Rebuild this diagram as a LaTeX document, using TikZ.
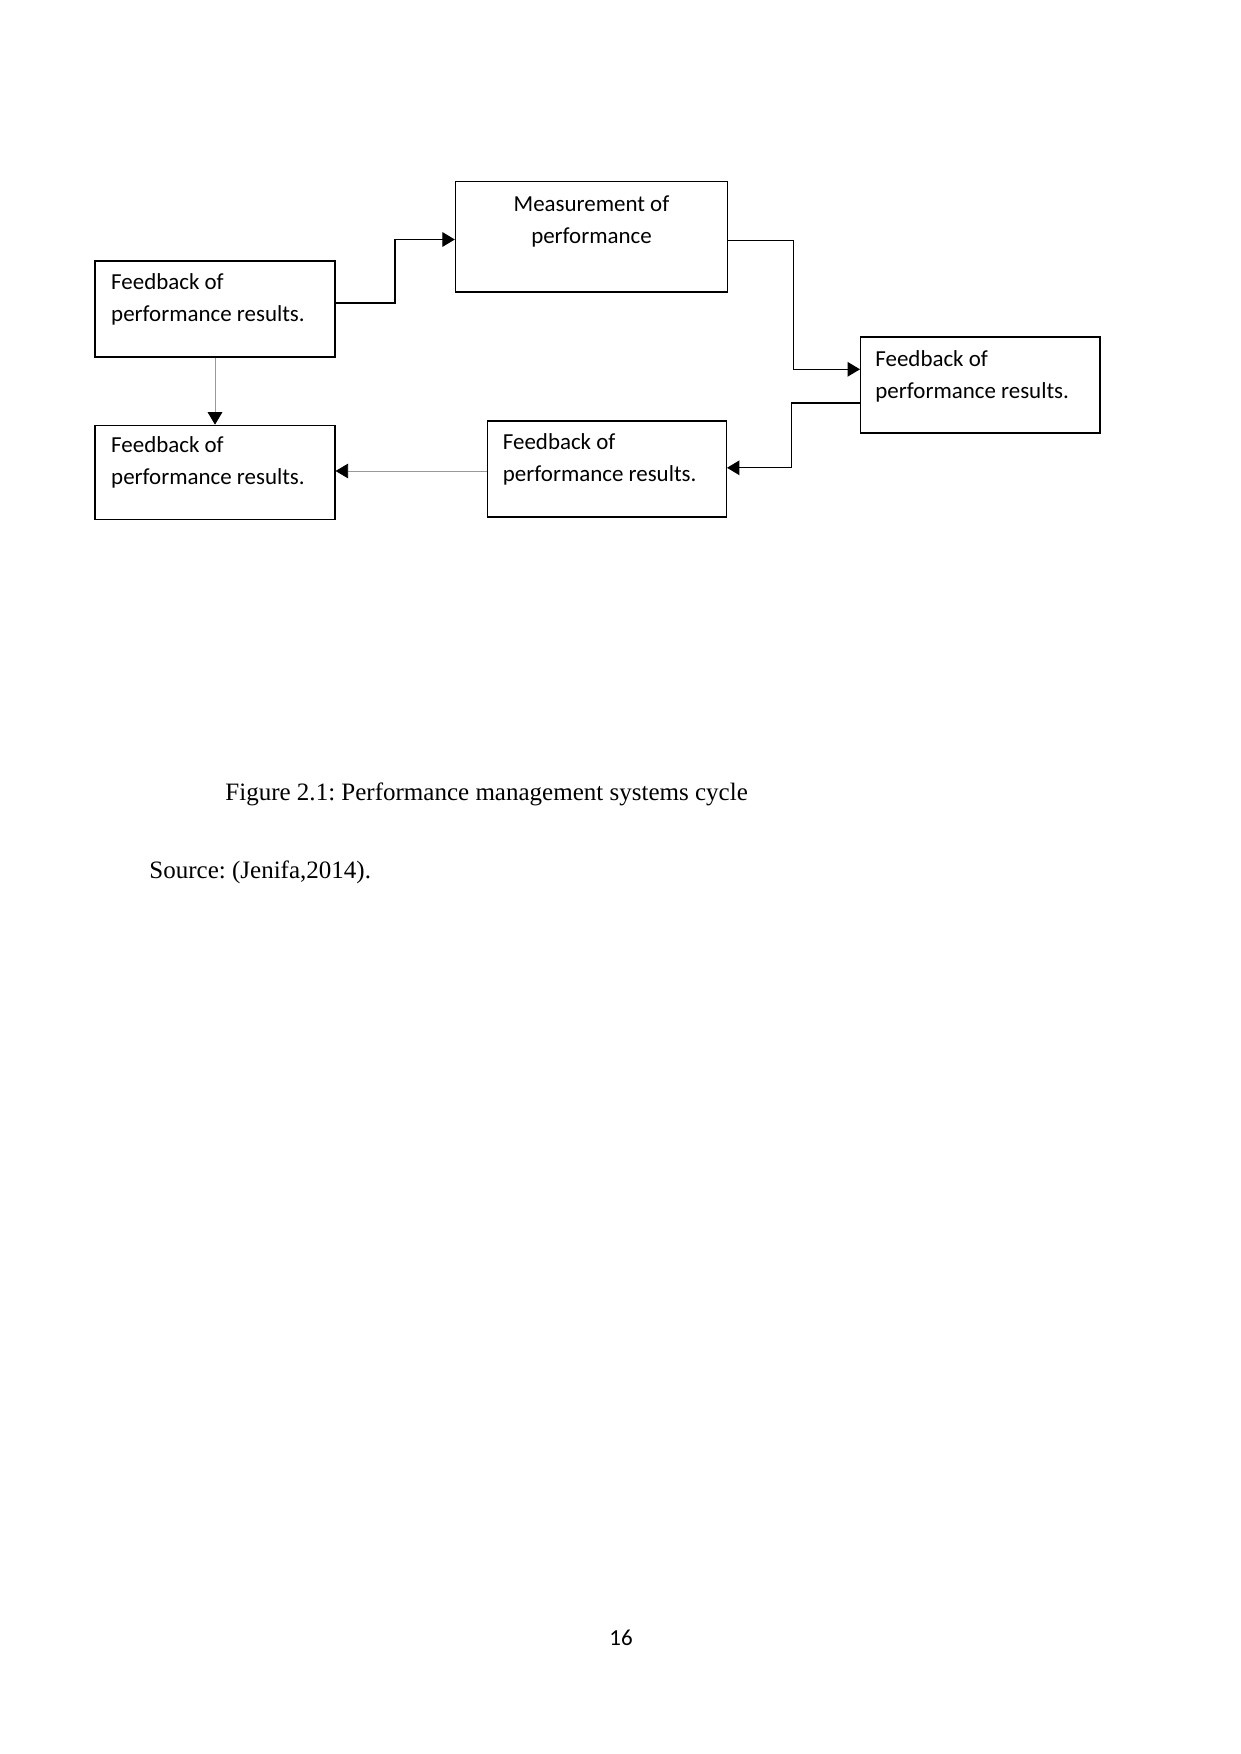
\documentclass[tikz,border=0pt]{standalone}
\usepackage{fontspec}
\setmainfont{Liberation Serif}
\newfontfamily\carlfont{Carlito}
\usetikzlibrary{arrows.meta}
\begin{document}
\frenchspacing
\begin{tikzpicture}[x=0.4797pt,y=-0.4797pt,
  box/.style={draw=black,line width=0.6pt,rectangle,inner sep=0pt},
  txt/.style={font=\carlfont\fontsize{11}{15.35}\selectfont,align=left,inner sep=0pt,anchor=base west},
  ctxt/.style={font=\carlfont\fontsize{11}{15.35}\selectfont,align=center,inner sep=0pt,anchor=base},
  conn/.style={line width=0.6pt,-{Triangle[length=6pt,width=7pt]}},
  gconn/.style={line width=0.4pt,draw=black!40,-{Triangle[length=6pt,width=7pt,color=black,fill=black]}}]
\useasboundingbox[fill=white] (0,0) rectangle (1241,1754);
% boxes
\node[box,minimum width=115.1pt,minimum height=46.05pt] (A) at (215,309) {};
\node[box,minimum width=130.5pt,minimum height=53.1pt] (Meas) at (591.5,236.6) {};
\node[box,minimum width=114.8pt,minimum height=46.1pt] (R) at (980.3,385) {};
\node[box,minimum width=114.4pt,minimum height=46.1pt] (M) at (607.1,469) {};
\node[box,minimum width=115.1pt,minimum height=45.1pt] (B) at (215,472.3) {};
% texts (anchor = baseline of last line)
\node[txt] (tA) at (110.8,321) {Feedback of\\performance results.};
\node[ctxt] (tMeas) at (591.5,243) {Measurement of\\performance};
\node[txt] (tR) at (875,398) {Feedback of\\performance results.};
\node[txt] (tM) at (502.5,481) {Feedback of\\performance results.};
\node[txt] (tB) at (110.8,484.5) {Feedback of\\performance results.};
% helper coordinates
\coordinate (y1) at (0,303);
\coordinate (y2) at (0,239.5);
\coordinate (x1) at (395,0);
\coordinate (y3) at (0,240.6);
\coordinate (y4) at (0,369.3);
\coordinate (x2) at (793.4,0);
\coordinate (y5) at (0,402.9);
\coordinate (y6) at (0,467.8);
\coordinate (x3) at (791.2,0);
\coordinate (y7) at (0,471);
% connectors
\draw[conn] (A.east |- y1) -- (x1 |- y1) -- (x1 |- y2) -- (Meas.west |- y2);
\draw[conn] (Meas.east |- y3) -- (x2 |- y3) -- (x2 |- y4) -- (R.west |- y4);
\draw[conn] (R.west |- y5) -- (x3 |- y5) -- (x3 |- y6) -- (M.east |- y6);
\draw[gconn] (M.west |- y7) -- (B.east |- y7);
\draw[gconn] (A.south) -- (B.north);
% caption
\node[font=\fontsize{12}{14}\selectfont,inner sep=0pt,anchor=base west] (cap) at (225,800) {Figure 2.1: Performance management systems cycle};
\node[font=\fontsize{12}{14}\selectfont,inner sep=0pt,anchor=base west] (src) at (149,878) {Source: (Jenifa,2014).};
\node[font=\carlfont\fontsize{11}{13}\selectfont,inner sep=0pt,anchor=base] (pg) at (621,1645) {16};
\end{tikzpicture}
\end{document}
